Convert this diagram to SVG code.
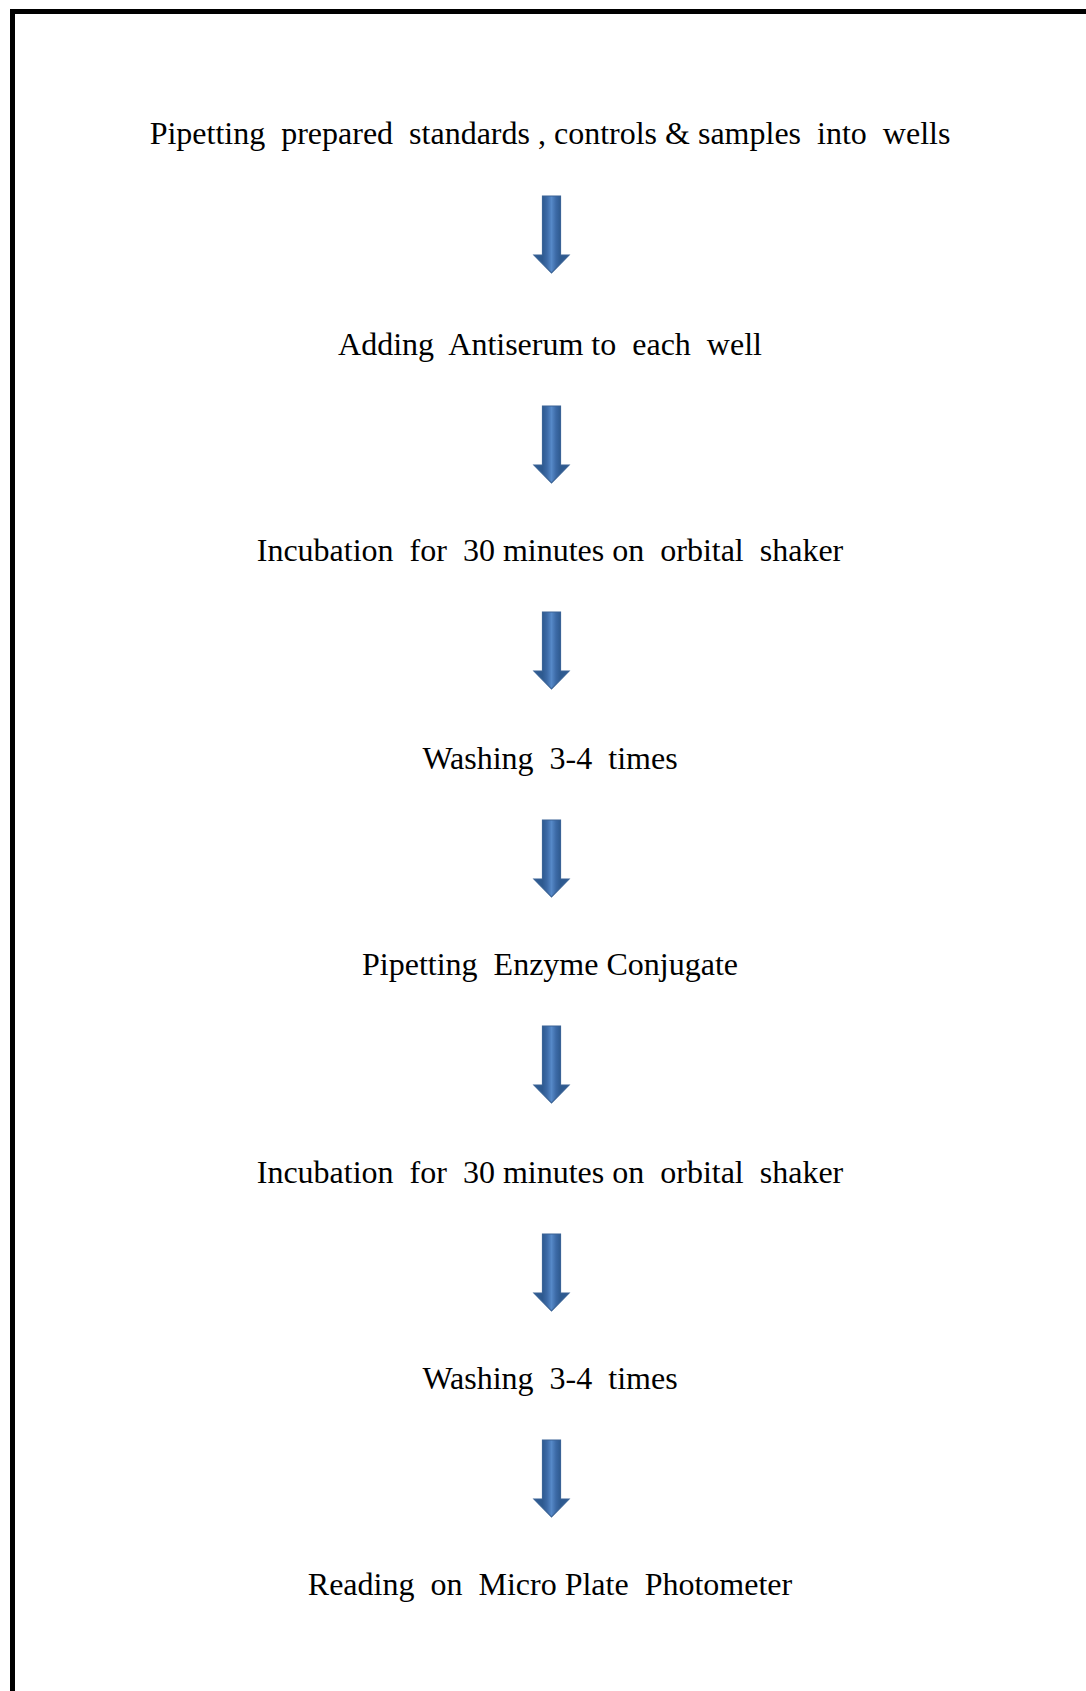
<svg xmlns="http://www.w3.org/2000/svg" width="1086" height="1691" viewBox="0 0 1086 1691">
  <style>
    .step { font-family: "Liberation Serif", "Times New Roman", serif; font-size: 32px; fill: #000; text-anchor: middle; white-space: pre; }
    .frame { fill: none; stroke: #000; stroke-width: 5; }
  </style>
  <defs>
    <!-- horizontal shading for the block arrows: darker rims, lighter core -->
    <linearGradient id="arrowShade" gradientUnits="userSpaceOnUse" x1="-9" y1="0" x2="9" y2="0">
      <stop offset="0" stop-color="#2e5a90"/>
      <stop offset="0.25" stop-color="#3c6aa6"/>
      <stop offset="0.5" stop-color="#5689c8"/>
      <stop offset="0.75" stop-color="#3c6aa6"/>
      <stop offset="1" stop-color="#2e5a90"/>
    </linearGradient>
    <!-- down arrow, origin at top centre of the shaft -->
    <path id="downArrow" d="M-9,0 H9 V59 H17.5 L0,77 L-17.5,59 H-9 Z" fill="url(#arrowShade)" stroke="#3a6396" stroke-width="1.2" stroke-linejoin="miter"/>
  </defs>

  <rect width="1086" height="1691" fill="#fff"/>
  <!-- page frame: only the top and left edges fall inside the page -->
  <rect class="frame" x="12.5" y="11.5" width="1100" height="1720"/>

  <g id="step1"><text class="step" x="550" y="144" xml:space="preserve">Pipetting  prepared  standards , controls &amp; samples  into  wells</text></g>
  <g id="step2"><text class="step" x="550" y="355" xml:space="preserve">Adding  Antiserum to  each  well</text></g>
  <g id="step3"><text class="step" x="550" y="561" xml:space="preserve">Incubation  for  30 minutes on  orbital  shaker</text></g>
  <g id="step4"><text class="step" x="550" y="769" xml:space="preserve">Washing  3-4  times</text></g>
  <g id="step5"><text class="step" x="550" y="975" xml:space="preserve">Pipetting  Enzyme Conjugate</text></g>
  <g id="step6"><text class="step" x="550" y="1183" xml:space="preserve">Incubation  for  30 minutes on  orbital  shaker</text></g>
  <g id="step7"><text class="step" x="550" y="1389" xml:space="preserve">Washing  3-4  times</text></g>
  <g id="step8"><text class="step" x="550" y="1595" xml:space="preserve">Reading  on  Micro Plate  Photometer</text></g>

  <g id="connectors">
    <use href="#downArrow" transform="translate(551.5,196)"/>
    <use href="#downArrow" transform="translate(551.5,406)"/>
    <use href="#downArrow" transform="translate(551.5,612)"/>
    <use href="#downArrow" transform="translate(551.5,820)"/>
    <use href="#downArrow" transform="translate(551.5,1026)"/>
    <use href="#downArrow" transform="translate(551.5,1234)"/>
    <use href="#downArrow" transform="translate(551.5,1440)"/>
  </g>
</svg>
